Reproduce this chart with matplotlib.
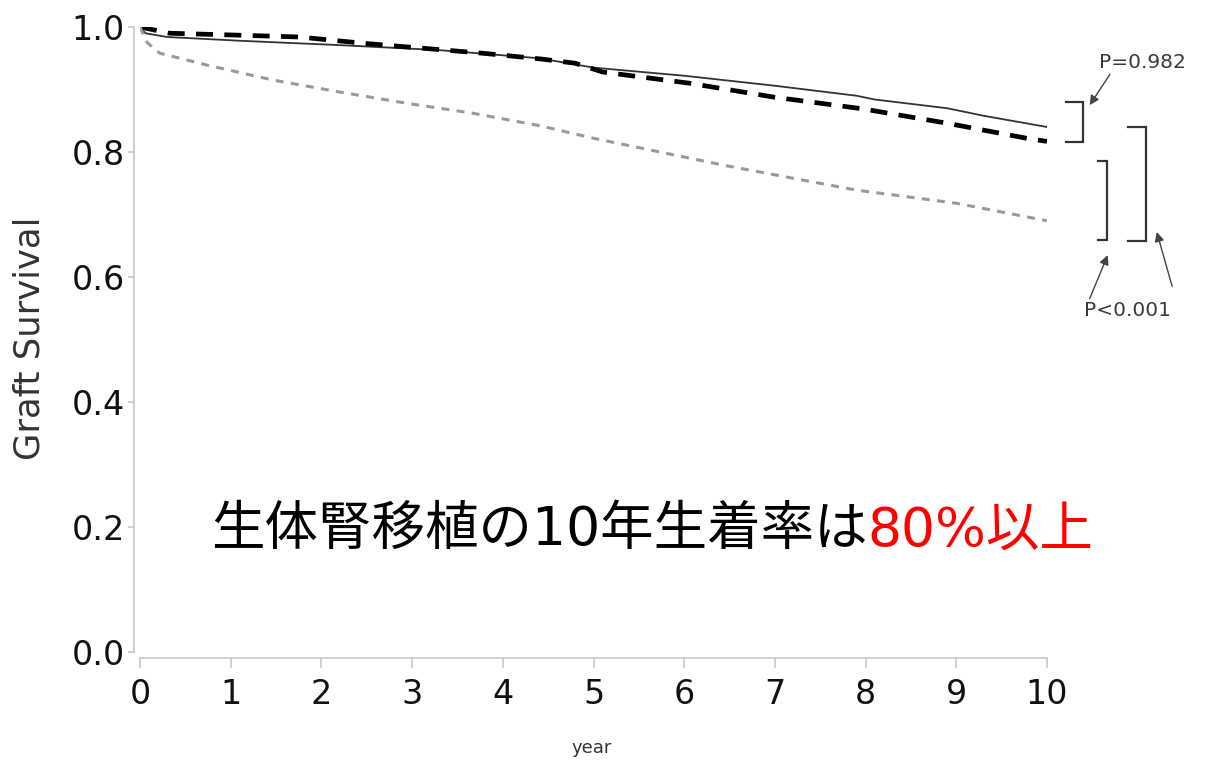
import matplotlib
matplotlib.use("Agg")
import matplotlib.pyplot as plt

# survival curves (year, graft survival)
years_solid = [0, 0.06, 0.3, 1.1, 2.2, 3.3, 4.4, 5.0, 6.0, 7.0, 7.9, 8.1, 8.9, 9.3, 10]
surv_solid = [1.0, 0.990, 0.984, 0.978, 0.971, 0.963, 0.950, 0.935, 0.922, 0.906, 0.890, 0.884, 0.870, 0.858, 0.840]

years_dash = [0, 0.33, 1.07, 1.76, 2.46, 3.12, 3.78, 4.41, 4.8, 5.1, 6.06, 6.98, 7.97, 8.9, 9.81, 10]
surv_dash = [1.0, 0.990, 0.987, 0.984, 0.974, 0.966, 0.958, 0.949, 0.942, 0.928, 0.910, 0.888, 0.869, 0.846, 0.821, 0.817]

years_gray = [0, 0.08, 0.22, 0.74, 1.47, 2.2, 2.94, 3.67, 4.41, 5.0, 5.6, 6.43, 7.2, 7.9, 9.0, 10]
surv_gray = [1.0, 0.975, 0.958, 0.939, 0.915, 0.896, 0.878, 0.862, 0.842, 0.822, 0.804, 0.779, 0.758, 0.739, 0.718, 0.690]

xticks = list(range(0, 11))
yticks = [0.0, 0.2, 0.4, 0.6, 0.8, 1.0]

fig = plt.figure(figsize=(12.14, 7.65), dpi=100)
ax = fig.add_axes([140 / 1214, 1 - 652 / 765, 907 / 1214, 625 / 765])

ax.plot(years_solid, surv_solid, color="#333333", lw=1.3)
ax.plot(years_dash, surv_dash, color="black", lw=3.4, dashes=(3.6, 2.4))
ax.plot(years_gray, surv_gray, color="#9a9a9a", lw=2.2, dashes=(2.6, 2.4))

ax.set_xlim(0, 10)
ax.set_ylim(0, 1)
ax.set_xticks(xticks)
ax.set_yticks(yticks)
ax.set_xticklabels([str(t) for t in xticks])
ax.set_yticklabels([f"{t:.1f}" for t in yticks])

for side in ("top", "right"):
    ax.spines[side].set_visible(False)
for side in ("left", "bottom"):
    ax.spines[side].set_position(("outward", 4))
    ax.spines[side].set_color("#c8c8c8")
    ax.spines[side].set_linewidth(1.2)

ax.tick_params(axis="x", length=7, width=1.2, color="#c8c8c8", pad=8,
               labelsize=24, labelcolor="#111111")
ax.tick_params(axis="y", length=4, width=1.2, color="#c8c8c8", pad=3,
               labelsize=24, labelcolor="#111111")

fig.text(30 / 1214, 1 - 338 / 765, "Graft Survival", rotation=90,
         fontsize=25.5, color="#333333", ha="center", va="center")
fig.text(592 / 1214, 1 - 748 / 765, "year", fontsize=13, color="#333333",
         ha="center", va="center")

# headline text, black part then red part
jp = ["DejaVu Sans", "Noto Sans CJK JP"]
t1 = ax.text(0.078, 0.195, "生体腎移植の10年生着率は", transform=ax.transAxes,
             fontsize=38.5, color="black", family=jp, va="center", ha="left")
fig.canvas.draw()
bb = t1.get_window_extent()
x_end = ax.transAxes.inverted().transform((bb.x1, bb.y0))[0]
ax.text(x_end, 0.195, "80%以上", transform=ax.transAxes,
        fontsize=38.5, color="#ff0000", family=jp, va="center", ha="left")

# significance brackets beside the curve ends
def bracket(x0, x1, y0, y1):
    ax.plot([x0, x1, x1, x0], [y1, y1, y0, y0], color="#333333", lw=1.6,
            clip_on=False, solid_joinstyle="miter")

bracket(10.21, 10.40, 0.816, 0.880)
bracket(10.56, 10.66, 0.659, 0.785)
bracket(10.89, 11.09, 0.658, 0.840)

arrow = dict(arrowstyle="-|>", color="#444444", lw=1.0, mutation_scale=14,
             shrinkA=0, shrinkB=0)
ax.annotate("P=0.982", xy=(10.47, 0.875), xytext=(11.05, 0.944),
            fontsize=14.5, color="#3a3a3a", ha="center", va="center",
            annotation_clip=False, arrowprops=dict(arrow, relpos=(0.15, 0.0)))
ax.annotate("P<0.001", xy=(10.67, 0.635), xytext=(10.89, 0.546),
            fontsize=14.5, color="#3a3a3a", ha="center", va="center",
            annotation_clip=False, arrowprops=dict(arrow, relpos=(0.05, 1.0)))
ax.annotate("", xy=(11.21, 0.672), xytext=(11.38, 0.585),
            annotation_clip=False, arrowprops=arrow)

fig.savefig("out.png", dpi=100, facecolor="white")
